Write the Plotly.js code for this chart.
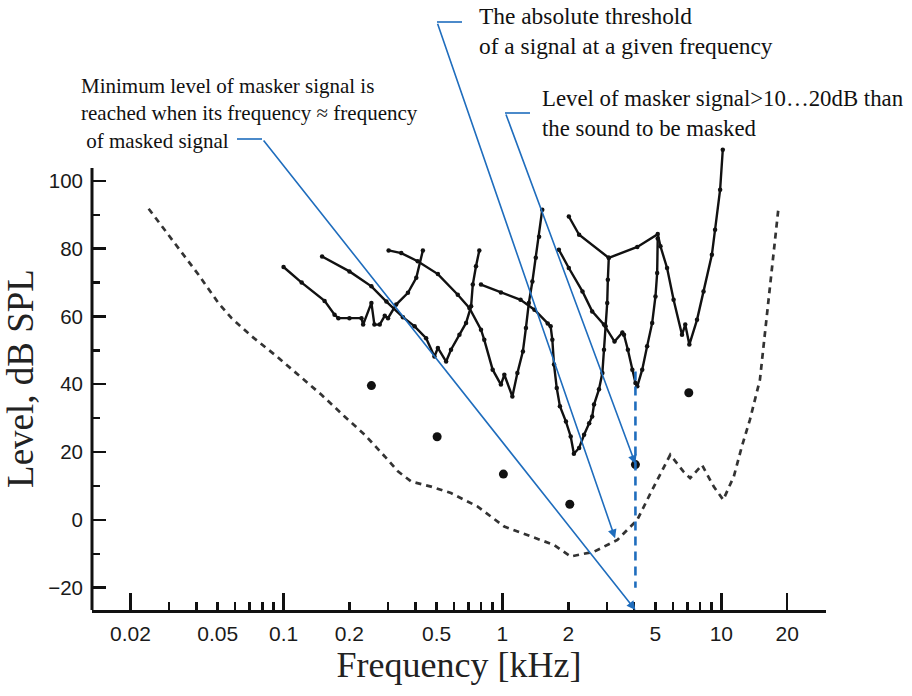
<!DOCTYPE html>
<html>
<head>
<meta charset="utf-8">
<script src="https://cdn.plot.ly/plotly-3.0.1.min.js"></script>
<style>html,body{margin:0;padding:0;background:#fff;}#chart{width:912px;height:696px;}</style>
</head>
<body>
<div id="chart"></div>
<script>
// ---- Data (frequency in kHz, level in dB SPL) ----
const thresholdF = [0.0242, 0.0321, 0.0409, 0.0504, 0.0579, 0.0717, 0.0912, 0.1166, 0.149, 0.19, 0.235, 0.29, 0.333, 0.383, 0.448, 0.472, 0.582, 0.771, 1.02, 1.35, 1.72, 2.05, 2.62, 3.35, 4.13, 4.75, 5.27, 5.84, 6.7, 7.2, 8.16, 9.23, 10.2, 11.4, 12.4, 13.5, 15, 18.2];
const thresholdDb = [91.8, 81.2, 72.3, 64, 59.5, 54.1, 48.7, 42.8, 36.9, 30.5, 25.1, 18.7, 14.3, 11.3, 10.3, 9.8, 7.9, 3.9, -2.0, -4.9, -7.4, -10.8, -9.4, -5.9, 0, 7.9, 13.8, 19.2, 14.3, 12.3, 16.2, 9.8, 5.9, 12.8, 21.6, 29.5, 41.3, 91.5];

const curve250F = [0.1, 0.121, 0.154, 0.171, 0.178, 0.2, 0.227, 0.231, 0.252, 0.26, 0.275, 0.29, 0.3, 0.327, 0.37, 0.404, 0.433];
const curve250Db = [74.6, 70, 64.6, 60.5, 59.5, 59.5, 59.5, 57.6, 64, 57.6, 57.6, 60.2, 59.5, 63.5, 67, 71.4, 79.5];

const curve500F = [0.15, 0.2, 0.252, 0.295, 0.351, 0.397, 0.448, 0.489, 0.507, 0.553, 0.582, 0.636, 0.682, 0.719, 0.732, 0.757, 0.784];
const curve500Db = [77.7, 73.3, 68.9, 64.4, 59.8, 57.1, 53.6, 48.2, 50.7, 46.7, 50.2, 54.6, 58.1, 63, 69.4, 74.8, 79.5];

const curve1kF = [0.302, 0.345, 0.41, 0.507, 0.625, 0.706, 0.798, 0.826, 0.902, 0.984, 1.02, 1.11, 1.17, 1.24, 1.28, 1.32, 1.37, 1.42, 1.47, 1.52];
const curve1kDb = [79.5, 78.7, 76.3, 72.5, 66.4, 62.5, 56.1, 53.1, 44.3, 39.9, 42.8, 36.4, 43.3, 49.7, 56.6, 64, 70.3, 77.3, 83.5, 91.5];

const curve2kF = [0.798, 0.984, 1.21, 1.4, 1.61, 1.66, 1.69, 1.72, 1.77, 1.83, 1.95, 2.05, 2.12, 2.24, 2.36, 2.49, 2.57, 2.62, 2.76, 2.86, 2.91, 2.96, 3.01, 3.03, 3.06];
const curve2kDb = [69.4, 67.1, 64.9, 62, 57.9, 57.1, 53.1, 45.8, 38.9, 33.5, 29, 24.6, 19.5, 21.2, 25.1, 28.5, 30.5, 34, 38.5, 43.3, 50.2, 57.1, 64, 70.8, 77.3];

const curve4kF = [1.81, 2.01, 2.32, 2.57, 2.91, 3.25, 3.53, 3.59, 3.74, 3.92, 4.05, 4.13, 4.35, 4.58, 4.83, 5.0, 5.09, 5.12];
const curve4kDb = [79.7, 74.3, 67.4, 61.5, 57.6, 52.6, 55.3, 54.6, 50.2, 44.3, 40.4, 39.4, 44.3, 51.2, 58.1, 65.9, 72.8, 83];

const curve7kF = [2.01, 2.24, 3.06, 4.13, 5.12, 5.27, 5.65, 6.05, 6.61, 6.84, 7.14, 7.74, 8.29, 9.05, 9.36, 9.87, 10.15];
const curve7kDb = [89.5, 84.1, 77.3, 80.5, 84.3, 80.7, 74.3, 64.9, 54.6, 57.6, 51.7, 59, 67.4, 78.2, 85.6, 97.4, 109.2];

const signalF = [0.252, 0.503, 1.01, 2.03, 4.05, 7.1];
const signalDb = [39.6, 24.5, 13.5, 4.6, 16.3, 37.5];

const markerLineF = [4.05, 4.05];
const markerLineDb = [43.8, -20];

const xLabelVals = [0.02, 0.05, 0.1, 0.2, 0.5, 1, 2, 5, 10, 20];
const xLabelText = ['0.02', '0.05', '0.1', '0.2', '0.5', '1', '2', '5', '10', '20'];
const xShortTickVals = [0.03, 0.04, 0.06, 0.07, 0.08, 0.09, 0.3, 0.4, 0.6, 0.7, 0.8, 0.9, 3, 4, 6, 7, 8, 9];
const xLongTickVals = [0.02, 0.1, 1, 10, 20];
const yTickVals = [-20, 0, 20, 40, 60, 80, 100];
const yTickText = ['\u221220', '0', '20', '40', '60', '80', '100'];
const yMinorVals = [-10, 10, 30, 50, 70, 90];

const textTop = 'The absolute threshold<br>of a signal at a given frequency';
const textLeft = 'Minimum level of masker signal is<br>reached when its frequency \u2248 frequency<br>\u00a0of masked signal';
const textRight = 'Level of masker signal>10\u202620dB than<br>the sound to be masked';

// ---- Build ticks ----
const allX = xLabelVals.concat(xShortTickVals).sort((a, b) => a - b);
const allXText = allX.map(v => { const i = xLabelVals.indexOf(v); return i >= 0 ? xLabelText[i] : ''; });

const BLACK = '#111111';
const BLUE = '#1f6dbd';
const XR = [-1.875, 1.478];
const YR = [-26.6, 110];

function curve(f, db) {
  return { x: f, y: db, type: 'scatter', mode: 'lines+markers',
    line: { color: BLACK, width: 2.4 }, marker: { color: BLACK, size: 4.5 },
    hoverinfo: 'skip', cliponaxis: false };
}

const traces = [
  { x: thresholdF, y: thresholdDb, type: 'scatter', mode: 'lines',
    line: { color: '#333', width: 2.7, dash: '6px,5px' }, hoverinfo: 'skip' },
  curve(curve250F, curve250Db),
  curve(curve500F, curve500Db),
  curve(curve1kF, curve1kDb),
  curve(curve2kF, curve2kDb),
  curve(curve4kF, curve4kDb),
  curve(curve7kF, curve7kDb),
  { x: signalF, y: signalDb, type: 'scatter', mode: 'markers',
    marker: { color: BLACK, size: 9 }, hoverinfo: 'skip' },
  { x: markerLineF, y: markerLineDb, type: 'scatter', mode: 'lines',
    line: { color: BLUE, width: 2.6, dash: '9px,6px' }, hoverinfo: 'skip' },
  { x: [], y: [], xaxis: 'x2', yaxis: 'y', type: 'scatter', mode: 'markers', hoverinfo: 'skip' }
];

// pixel helpers for paper coordinates of the text boxes
const L = 92, R = 86, T = 147, B = 86, W = 912, H = 696;
const pw = W - L - R, ph = H - T - B;
const px = v => (v - L) / pw;
const py = v => (H - B - v) / ph;

const serif = 'Liberation Serif, Times New Roman, serif';
const sans = 'Liberation Sans, Arial, Helvetica, sans-serif';

const layout = {
  width: W, height: H,
  margin: { l: L, r: R, t: T, b: B, pad: 0 },
  paper_bgcolor: '#fff', plot_bgcolor: '#fff',
  showlegend: false,
  xaxis: {
    type: 'log', range: XR, showline: true, linewidth: 3, linecolor: BLACK,
    showgrid: false, zeroline: false, mirror: false,
    ticks: 'inside', ticklen: 8, tickwidth: 2.4, tickcolor: BLACK,
    tickmode: 'array', tickvals: allX, ticktext: allXText,
    tickfont: { family: sans, size: 21, color: '#1a1a1a' },
    ticklabelstandoff: 3,
    title: { text: 'Frequency [kHz]', font: { family: serif, size: 36, color: '#222' }, standoff: 6 }
  },
  xaxis2: {
    type: 'log', range: XR, overlaying: 'x', anchor: 'y', side: 'bottom',
    showline: false, showgrid: false, zeroline: false,
    ticks: 'inside', ticklen: 17, tickwidth: 2.4, tickcolor: BLACK,
    tickmode: 'array', tickvals: xLongTickVals, showticklabels: false
  },
  yaxis: {
    range: YR, showline: false, showgrid: false, zeroline: false,
    ticks: 'inside', ticklen: 14, tickwidth: 2.4, tickcolor: BLACK,
    tickmode: 'array', tickvals: yTickVals, ticktext: yTickText,
    minor: { tickmode: 'array', tickvals: yMinorVals, ticks: 'inside', ticklen: 8, tickwidth: 2.4, tickcolor: BLACK },
    tickfont: { family: sans, size: 20.5, color: '#1a1a1a' },
    ticklabelstandoff: 8,
    title: { text: 'Level, dB SPL', font: { family: serif, size: 37, color: '#222' }, standoff: 8 }
  },
  shapes: [
    { type: 'line', xref: 'paper', yref: 'y', x0: 0, x1: 0, y0: -26.6, y1: 103.8, line: { color: BLACK, width: 3 } },
    { type: 'line', xref: 'paper', yref: 'paper', x0: px(237), x1: px(262), y0: py(139), y1: py(139), line: { color: BLUE, width: 1.6 } },
    { type: 'line', xref: 'paper', yref: 'paper', x0: px(437), x1: px(462), y0: py(22), y1: py(22), line: { color: BLUE, width: 1.6 } },
    { type: 'line', xref: 'paper', yref: 'paper', x0: px(505), x1: px(530), y0: py(113), y1: py(113), line: { color: BLUE, width: 1.6 } }
  ],
  annotations: [
    { xref: 'paper', yref: 'paper', x: px(477), y: py(31.5), xanchor: 'left', yanchor: 'middle', align: 'left',
      showarrow: false, text: textTop, font: { family: serif, size: 23.4, color: '#111' } },
    { xref: 'paper', yref: 'paper', x: px(79), y: py(113), xanchor: 'left', yanchor: 'middle', align: 'left',
      showarrow: false, text: textLeft, font: { family: serif, size: 21, color: '#111' } },
    { xref: 'paper', yref: 'paper', x: px(540), y: py(114), xanchor: 'left', yanchor: 'middle', align: 'left',
      showarrow: false, text: textRight, font: { family: serif, size: 22.8, color: '#111' } },
    { xref: 'x', yref: 'y', x: Math.log10(4.05), y: -26.6, text: '', showarrow: true,
      ax: -373, ay: -471, axref: 'pixel', ayref: 'pixel',
      arrowhead: 2, arrowsize: 1.1, arrowwidth: 1.6, arrowcolor: BLUE, standoff: 0 },
    { xref: 'x', yref: 'y', x: Math.log10(3.27), y: -5.4, text: '', showarrow: true,
      ax: -178, ay: -516, axref: 'pixel', ayref: 'pixel',
      arrowhead: 2, arrowsize: 1.1, arrowwidth: 1.6, arrowcolor: BLUE, standoff: 0 },
    { xref: 'x', yref: 'y', x: Math.log10(4.05), y: 16.5, text: '', showarrow: true,
      ax: -130, ay: -351, axref: 'pixel', ayref: 'pixel',
      arrowhead: 2, arrowsize: 1.1, arrowwidth: 1.6, arrowcolor: BLUE, standoff: 0 }
  ]
};

Plotly.newPlot('chart', traces, layout, { displayModeBar: false, staticPlot: true });
</script>
</body>
</html>
